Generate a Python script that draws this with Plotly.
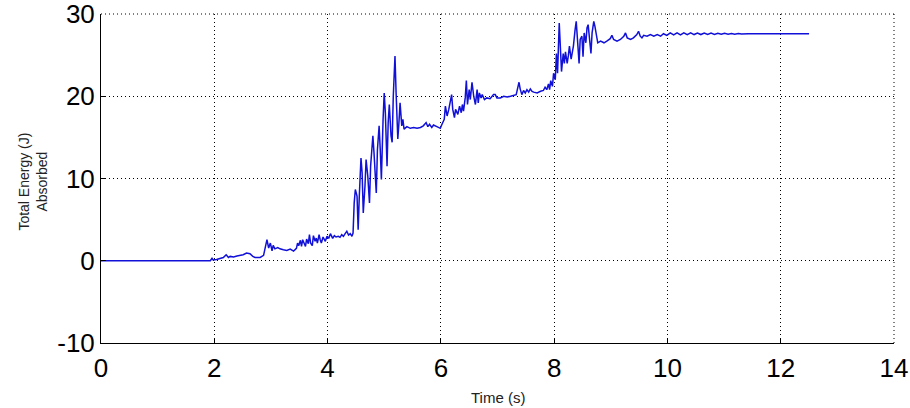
import plotly.graph_objects as go

# Data
time_s = [
    0.00, 1.93, 1.96, 1.98, 2.04, 2.10, 2.16, 2.21, 2.25, 2.28, 2.34, 2.40, 2.46, 2.51, 2.57, 2.63,
    2.68, 2.72, 2.81, 2.87, 2.93, 2.96, 2.99, 3.02, 3.04, 3.07, 3.12, 3.16, 3.22, 3.28, 3.34, 3.40,
    3.45, 3.47, 3.49, 3.52, 3.54, 3.56, 3.59, 3.61, 3.63, 3.66, 3.68, 3.70, 3.73, 3.75, 3.78, 3.80,
    3.82, 3.85, 3.87, 3.89, 3.92, 3.94, 3.96, 3.99, 4.02, 4.05, 4.07, 4.09, 4.12, 4.15, 4.19, 4.22,
    4.25, 4.28, 4.31, 4.34, 4.37, 4.40, 4.43, 4.45,
    4.47, 4.49, 4.52, 4.54, 4.56, 4.59, 4.61, 4.63, 4.66, 4.68, 4.71, 4.74, 4.76, 4.80, 4.82, 4.86,
    4.88, 4.91, 4.93, 4.95, 4.98, 5.00, 5.02, 5.05, 5.07, 5.09, 5.12, 5.14, 5.16, 5.19, 5.21, 5.24,
    5.26, 5.28, 5.31, 5.33, 5.35, 5.40, 5.46, 5.52, 5.58, 5.64, 5.69, 5.74, 5.77, 5.80, 5.84, 5.87,
    5.93, 5.99, 6.02, 6.06, 6.08, 6.11, 6.14, 6.17, 6.19, 6.21, 6.24, 6.26, 6.30, 6.33, 6.36, 6.38,
    6.40, 6.43, 6.45, 6.47, 6.50, 6.52, 6.55, 6.58, 6.61, 6.64, 6.66, 6.68, 6.71, 6.73, 6.77, 6.81,
    6.87, 6.93, 6.96, 6.99, 7.05, 7.11, 7.17, 7.23, 7.28, 7.33, 7.36, 7.38, 7.40, 7.43, 7.46, 7.49,
    7.52, 7.55, 7.58, 7.61, 7.64, 7.70, 7.76, 7.81, 7.84, 7.87, 7.90, 7.92, 7.94, 7.97, 7.99,
    8.02, 8.04, 8.06, 8.09, 8.11, 8.13, 8.16, 8.18, 8.20, 8.23, 8.25, 8.27, 8.30, 8.32, 8.34, 8.37,
    8.39, 8.42, 8.44, 8.46, 8.49, 8.51, 8.53, 8.56, 8.58, 8.60, 8.63, 8.65, 8.67, 8.70, 8.72, 8.75,
    8.77, 8.82, 8.88, 8.93, 8.99, 9.02, 9.05, 9.11, 9.17, 9.23, 9.26, 9.29, 9.32, 9.35, 9.40, 9.46,
    9.49, 9.52, 9.55, 9.58, 9.64, 9.70, 9.76, 9.82, 9.88, 9.93, 9.99,
    10.05, 10.11, 10.17, 10.23, 10.29, 10.35, 10.41, 10.47, 10.53, 10.59, 10.65, 10.71, 10.77, 10.83,
    10.89, 10.95, 11.01, 11.07, 11.13, 11.19, 11.25, 11.31, 11.37, 11.43, 12.50,
]
energy_j = [
    0.00, 0.00, 0.30, 0.10, 0.15, 0.25, 0.40, 0.73, 0.40, 0.53, 0.45, 0.57, 0.65, 0.73, 0.93, 0.85,
    0.53, 0.40, 0.40, 0.65, 2.56, 1.54, 2.15, 1.22, 1.87, 1.45, 1.60, 1.45, 1.34, 1.26, 1.42, 1.18,
    1.50, 2.15, 1.83, 2.48, 1.75, 2.56, 2.07, 1.75, 2.64, 2.07, 3.17, 2.15, 1.83, 3.05, 2.36, 2.76,
    2.15, 3.17, 2.56, 2.15, 2.89, 2.56, 2.36, 2.97, 2.72, 3.29, 2.97, 2.72, 3.05, 2.89, 2.97, 2.85,
    3.17, 2.97, 3.29, 3.58, 3.13, 3.29, 2.97, 3.37,
    7.03, 8.66, 7.85, 3.78, 7.85, 12.5, 10.7, 5.80, 9.06, 12.3, 10.3, 7.03, 11.5, 15.2, 13.1, 8.25,
    13.5, 16.4, 13.5, 9.88, 17.2, 20.4, 18.0, 11.5, 16.8, 19.0, 15.2, 14.4, 20.0, 24.9, 20.4, 14.8,
    16.8, 19.2, 16.4, 17.2, 16.0, 16.3, 16.1, 16.2, 16.1, 16.2, 16.4, 16.8, 16.3, 16.6, 16.2, 16.5,
    16.3, 16.1, 16.6, 17.2, 18.8, 17.6, 18.4, 19.8, 20.2, 18.4, 17.4, 18.4, 17.8, 18.8, 18.0, 19.0,
    18.2, 19.8, 21.9, 19.0, 20.8, 19.6, 21.7, 20.0, 19.0, 20.8, 19.2, 20.4, 19.8, 20.2, 19.6, 19.8,
    19.7, 20.2, 20.2, 19.8, 19.8, 20.0, 19.9, 20.0, 20.1, 20.2, 21.1, 21.7, 20.9, 20.2, 20.7, 20.4,
    20.8, 20.5, 20.9, 20.6, 20.5, 20.4, 20.6, 20.7, 21.1, 20.8, 21.5, 20.8, 21.9, 21.2, 22.8,
    22.0, 25.2, 22.8, 28.9, 25.2, 23.0, 25.2, 24.0, 25.4, 24.0, 24.9, 26.1, 24.5, 25.1, 26.1, 28.1,
    29.1, 26.1, 24.0, 26.9, 27.3, 24.8, 27.7, 26.5, 28.3, 28.7, 26.9, 25.2, 27.7, 29.1, 28.5, 27.3,
    26.5, 26.7, 26.5, 26.7, 27.0, 27.4, 26.9, 26.7, 26.9, 27.3, 27.7, 27.1, 27.0, 26.9, 27.1, 27.5,
    27.9, 27.3, 27.1, 27.4, 27.3, 27.5, 27.3, 27.5, 27.3, 27.6, 27.4,
    27.70, 27.45, 27.70, 27.45, 27.70, 27.50, 27.70, 27.50, 27.68, 27.50, 27.68, 27.52, 27.67, 27.52,
    27.66, 27.53, 27.65, 27.54, 27.64, 27.55, 27.63, 27.56, 27.62, 27.60, 27.60,
]

x_ticks = [0, 2, 4, 6, 8, 10, 12, 14]
x_tick_labels = ["0", "2", "4", "6", "8", "10", "12", "14"]
y_ticks = [-10, 0, 10, 20, 30]
y_tick_labels = ["-10", "0", "10", "20", "30"]

x_title = "Time (s)"
y_title = "Total Energy (J)<br>Absorbed"

FONT = "Arial, 'Liberation Sans', sans-serif"
DOTS = "1px,3px"

fig = go.Figure()
fig.add_trace(go.Scatter(
    x=time_s, y=energy_j, mode="lines",
    line=dict(color="#1010d8", width=1.5),
    showlegend=False, hoverinfo="skip",
))

axis_common = dict(
    showgrid=True, gridcolor="#000000", griddash=DOTS, gridwidth=1,
    zeroline=False, showline=True, linecolor="#000000", linewidth=1,
    ticks="inside", ticklen=5, tickcolor="#000000", tickwidth=1,
    tickfont=dict(family=FONT, size=26, color="#000000"),
    mirror=False, automargin=False, ticklabeloverflow="allow",
)

fig.update_layout(
    width=910, height=408,
    margin=dict(l=101, r=16, t=14, b=65),
    paper_bgcolor="#ffffff", plot_bgcolor="#ffffff",
    xaxis=dict(range=[0, 14], tickmode="array", tickvals=x_ticks, ticktext=x_tick_labels,
               ticklabelstandoff=2, **axis_common),
    yaxis=dict(range=[-10, 30], tickmode="array", tickvals=y_ticks, ticktext=y_tick_labels,
               **axis_common),
    annotations=[
        dict(text=x_title, xref="paper", yref="paper", x=0.5, y=-0.165,
             xanchor="center", yanchor="middle", showarrow=False,
             font=dict(family=FONT, size=15, color="#222222")),
        dict(text=y_title, xref="paper", yref="paper", x=-0.086, y=0.49,
             xanchor="center", yanchor="middle", showarrow=False, textangle=-90,
             font=dict(family=FONT, size=14, color="#222222")),
    ],
    shapes=[
        dict(type="line", xref="paper", yref="paper", x0=0, x1=1, y0=1, y1=1,
             line=dict(color="#000000", width=1, dash=DOTS)),
        dict(type="line", xref="paper", yref="paper", x0=1, x1=1, y0=0, y1=1,
             line=dict(color="#000000", width=1, dash=DOTS)),
    ],
)

fig.write_html(
    "out.html",
    config={"displayModeBar": False},
    post_script="document.body.style.margin='0px';document.body.style.overflow='hidden';",
)
